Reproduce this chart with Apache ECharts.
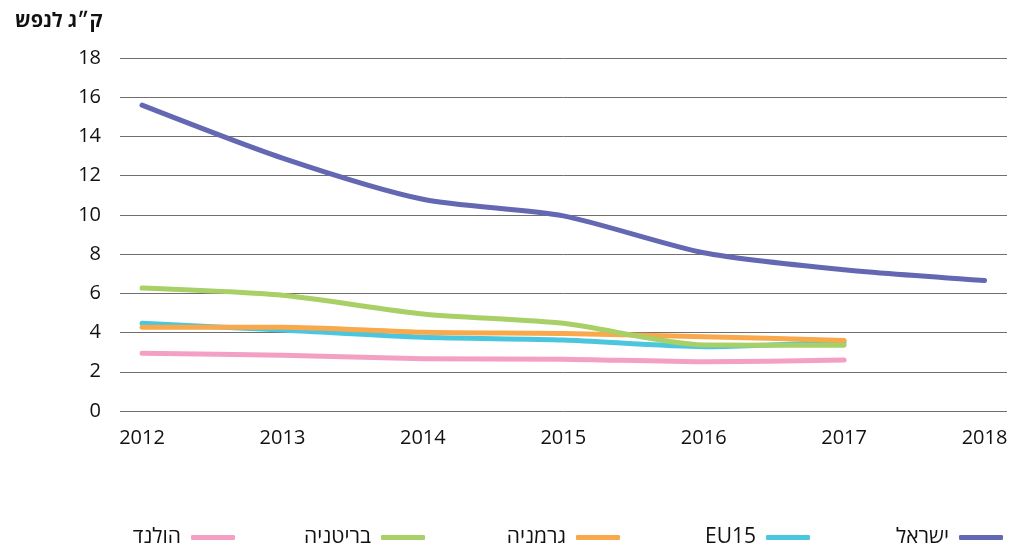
<!DOCTYPE html>
<html>
<head>
<meta charset="utf-8">
<script src="https://cdn.jsdelivr.net/npm/echarts@6/dist/echarts.min.js"></script>
<style>
  html, body { margin: 0; padding: 0; background: #fff; }
  #chart { width: 1013px; height: 552px; }
</style>
</head>
<body>
<div id="chart"></div>
<script>
const years = [2012, 2013, 2014, 2015, 2016, 2017, 2018];
const israel = [15.6, 12.9, 10.8, 9.95, 8.07, 7.2, 6.65];
const eu15 = [4.47, 4.13, 3.76, 3.62, 3.28, 3.52];
const germany = [4.27, 4.27, 4.01, 3.95, 3.79, 3.6];
const britain = [6.27, 5.9, 4.95, 4.47, 3.37, 3.35];
const netherlands = [2.94, 2.84, 2.67, 2.64, 2.51, 2.6];
const seriesNames = ['ישראל', 'EU15', 'גרמניה', 'בריטניה', 'הולנד'];
const colors = ['#6468B3', '#4BC6DF', '#F9A94B', '#A8D066', '#F4A0C4'];
const yTitle = 'ק״ג לנפש';

const FONT = '"Open Sans", "Liberation Sans", "DejaVu Sans", sans-serif';
const pairs = arr => arr.map((v, i) => [years[i], v]);
const allData = [israel, eu15, germany, britain, netherlands];
const legendRight = [10, 203, 393, 588, 778];

const chart = echarts.init(document.getElementById('chart'), null, { renderer: 'canvas' });
chart.setOption({
  animation: false,
  backgroundColor: '#fff',
  title: {
    text: yTitle,
    left: 10, top: 6,
    textStyle: { fontFamily: FONT, fontSize: 20, fontWeight: 'bold', color: '#111' }
  },
  grid: { left: 120, right: 6, top: 58, bottom: 141, containLabel: false },
  xAxis: {
    type: 'value',
    min: 2011.843,
    max: 2018.16,
    splitNumber: 6,
    axisLine: { show: false },
    axisTick: { show: false },
    splitLine: { show: false },
    axisLabel: {
      showMinLabel: false, showMaxLabel: false,
      margin: 17,
      fontFamily: FONT, fontSize: 20, color: '#111',
      formatter: v => (Math.abs(v - Math.round(v)) < 1e-6 ? String(Math.round(v)) : '')
    }
  },
  yAxis: {
    type: 'value',
    min: 0, max: 18, interval: 2,
    axisLine: { show: false },
    axisTick: { show: false },
    splitLine: { lineStyle: { color: '#6f6f6f', width: 1 } },
    axisLabel: { margin: 19, fontFamily: FONT, fontSize: 20, color: '#111' }
  },
  legend: seriesNames.map((name, i) => ({
    data: [name],
    right: legendRight[i],
    top: 527,
    padding: 0,
    align: 'right',
    itemWidth: 44,
    itemHeight: 5,
    icon: 'roundRect',
    textStyle: { fontFamily: FONT, fontSize: 21, color: '#111', padding: [0, 5, 0, 0] }
  })),
  series: seriesNames.map((name, i) => ({
    name,
    type: 'line',
    data: pairs(allData[i]),
    smooth: 0.25,
    symbol: 'none',
    color: colors[i],
    lineStyle: { color: colors[i], width: 5, cap: 'round', join: 'round' },
    z: 2 + i
  }))
});
</script>
</body>
</html>
